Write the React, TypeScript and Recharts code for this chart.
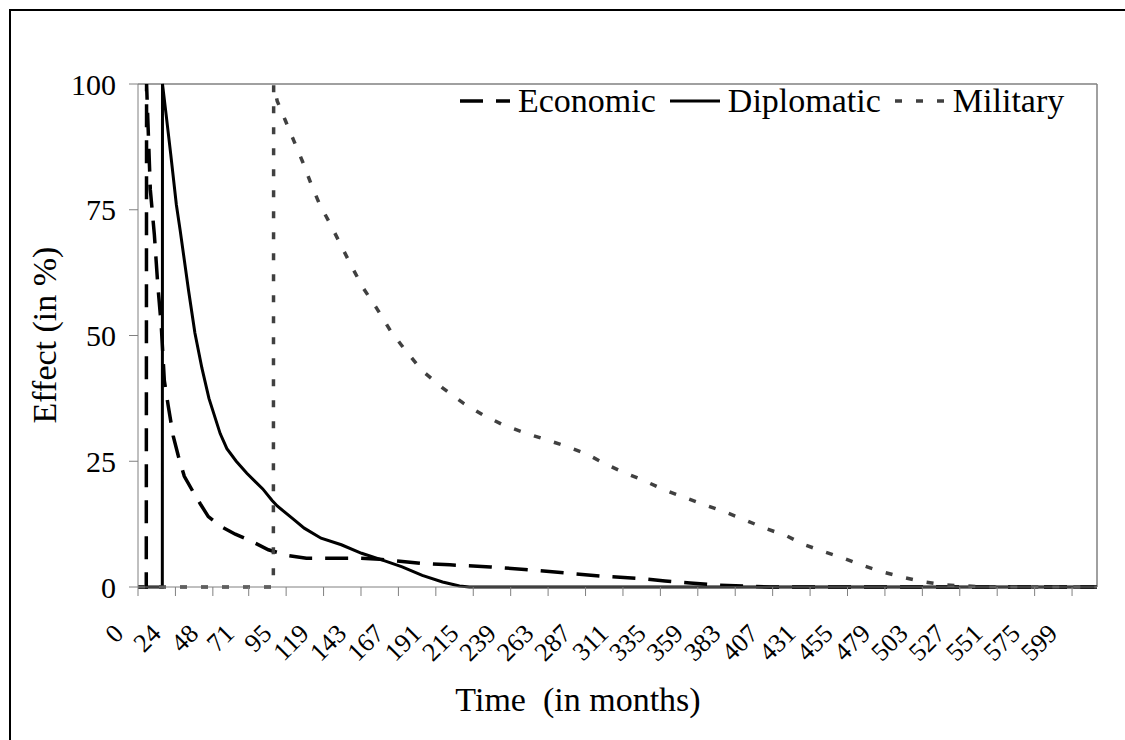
import { LineChart, Line, XAxis, YAxis, ReferenceLine } from "recharts"

const FONT = "'Liberation Serif', 'Times New Roman', serif"

const xTicks = [0, 24, 48, 71, 95, 119, 143, 167, 191, 215, 239, 263, 287, 311, 335, 359, 383, 407, 431, 455, 479, 503, 527, 551, 575, 599]
const yTicks = [0, 25, 50, 75, 100]

// months / effect (%)
const economicMonths = [0, 5.3, 5.5, 7.9, 10.5, 12.7, 14.9, 16.9, 19.4, 22.6, 25.9, 29.7, 35.2, 40, 45.1, 53.4, 62.4, 70.7, 83.6, 97, 108, 123, 143, 155, 168, 181, 200, 226, 248, 274, 296, 322, 338, 354, 370, 390, 405, 615]
const economicValues = [0, 0, 100, 79, 70, 60, 52, 41, 36, 30, 26, 22, 19, 16.5, 14, 12, 10.5, 9.4, 7.4, 6.2, 5.7, 5.7, 5.7, 5.5, 5.1, 4.7, 4.4, 4.0, 3.5, 2.8, 2.2, 1.7, 1.2, 0.8, 0.4, 0.2, 0, 0]

const diplomaticMonths = [0, 15.6, 15.7, 18, 21, 24.6, 27, 32.4, 36.5, 41, 45.5, 52.7, 57, 63, 69.8, 80, 86, 89.3, 100, 106.6, 117.4, 130.4, 143.4, 156.4, 169.4, 182.3, 195.3, 206.2, 212.5, 615]
const diplomaticValues = [0, 0, 100, 94, 86, 76, 71, 59, 50.5, 43.5, 37.5, 30.5, 27.5, 25, 22.6, 19.5, 17.2, 16.1, 13.4, 11.7, 9.7, 8.4, 6.7, 5.4, 4.0, 2.3, 1.0, 0.2, 0, 0]

const militaryMonths = [0, 86.8, 87, 89.3, 94.7, 100.1, 105.5, 110.9, 116.3, 123.9, 130.4, 136.9, 144.5, 153.1, 161.8, 171.6, 182.3, 195.3, 208.4, 221.3, 234.3, 249.5, 262.5, 275.4, 287.4, 298.2, 310.6, 323.5, 336.7, 350.5, 363.8, 377.3, 389.5, 401.8, 415.8, 426.5, 438.2, 452.8, 465.6, 477.5, 491, 504.3, 517.7, 531, 545, 615]
const militaryValues = [0, 0, 99.8, 96.6, 92.6, 88.6, 84.6, 80.2, 76.2, 71.8, 67.8, 63.8, 59.4, 55.4, 51, 47, 43, 39.6, 36.6, 34.2, 32.2, 30.5, 29.2, 27.9, 26.5, 24.7, 22.9, 21.3, 19.4, 17.8, 16.3, 14.8, 13.3, 11.7, 10.2, 8.5, 7.2, 5.7, 4.2, 3.0, 1.9, 1.0, 0.4, 0.2, 0, 0]

const toPoints = (months: number[], values: number[]) =>
	months.map((t, i) => ({ t, v: values[i] }))

const series = [
	{ name: "Economic", data: toPoints(economicMonths, economicValues), stroke: "#000", width: 3.5, dash: "23 13" },
	{ name: "Diplomatic", data: toPoints(diplomaticMonths, diplomaticValues), stroke: "#000", width: 3, dash: undefined },
	{ name: "Military", data: toPoints(militaryMonths, militaryValues), stroke: "#404040", width: 3.5, dash: "7 14" },
]

const XTick = (props: any) => {
	const { x, y, payload } = props
	const px = x - 19
	const py = y + 33
	return (
		<text
			x={px}
			y={py}
			transform={`rotate(-45, ${px}, ${py})`}
			textAnchor="end"
			dominantBaseline="central"
			style={{ fontFamily: FONT, fontSize: 26 }}
			fill="#000"
		>
			{payload.value}
		</text>
	)
}

const YTick = (props: any) => {
	const { x, y, payload } = props
	return (
		<text x={x} y={y} textAnchor="end" dominantBaseline="central" style={{ fontFamily: FONT, fontSize: 30 }} fill="#000">
			{payload.value}
		</text>
	)
}

export default function App() {
	return (
		<div style={{ position: "fixed", left: 0, top: 0, width: 1125, height: 740, overflow: "hidden", background: "#fff", fontFamily: FONT }}>
			<div style={{ position: "absolute", left: 9, top: 9, width: 1200, height: 800, border: "2px solid #000" }} />
			<div style={{ position: "absolute", left: 0, top: 0 }}>
				<LineChart width={1125} height={740} margin={{ top: 84, right: 28, bottom: 93, left: 0 }}>
					<XAxis
						dataKey="t"
						type="number"
						domain={[0, 615]}
						ticks={xTicks}
						interval={0}
						allowDataOverflow
						tick={<XTick />}
						tickSize={9}
						tickMargin={0}
						stroke="#808080"
						height={60}
					/>
					<YAxis
						type="number"
						domain={[0, 100]}
						ticks={yTicks}
						interval={0}
						tickSize={9}
						tickMargin={13}
						width={138}
						stroke="#808080"
						tick={<YTick />}
					/>
					<ReferenceLine y={100} stroke="#808080" strokeWidth={1.5} />
					<ReferenceLine x={615} stroke="#808080" strokeWidth={1.5} />
					{series.map((s) => (
						<Line
							key={s.name}
							data={s.data}
							dataKey="v"
							name={s.name}
							type="linear"
							dot={false}
							activeDot={false}
							stroke={s.stroke}
							strokeWidth={s.width}
							strokeDasharray={s.dash}
							isAnimationActive={false}
						/>
					))}
				</LineChart>
			</div>
			<div
				style={{
					position: "absolute",
					left: 460,
					top: 84,
					display: "flex",
					alignItems: "center",
					fontSize: 34,
					lineHeight: "34px",
					whiteSpace: "nowrap",
				}}
			>
				{series.map((s) => (
					<div key={s.name} style={{ display: "flex", alignItems: "center", marginRight: 14 }}>
						<svg width={50} height={10} style={{ marginRight: 8 }}>
							<line x1={0} y1={5} x2={50} y2={5} stroke={s.stroke} strokeWidth={s.width} strokeDasharray={s.dash} />
						</svg>
						<span>{s.name}</span>
					</div>
				))}
			</div>
			<div
				style={{
					position: "absolute",
					left: 45,
					top: 335,
					transform: "translate(-50%, -50%) rotate(-90deg)",
					fontSize: 34,
					whiteSpace: "nowrap",
				}}
			>
				Effect (in %)
			</div>
			<div
				style={{
					position: "absolute",
					left: 578,
					top: 700,
					transform: "translate(-50%, -50%)",
					fontSize: 34,
					whiteSpace: "pre",
				}}
			>
				{"Time  (in months)"}
			</div>
		</div>
	)
}
